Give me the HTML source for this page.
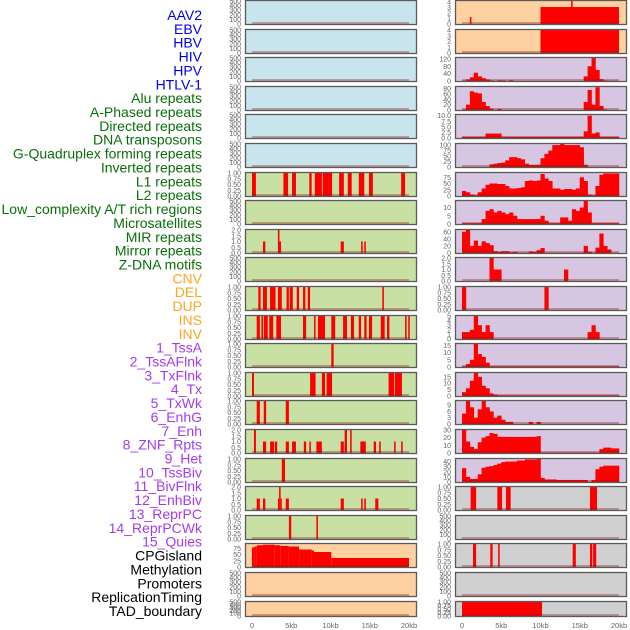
<!DOCTYPE html>
<html><head><meta charset="utf-8"><style>
html,body{margin:0;padding:0;background:#fff;width:630px;height:630px;overflow:hidden}
svg{display:block;font-family:"Liberation Sans",sans-serif}
</style></head><body>
<svg id="chart" width="630" height="630" viewBox="0 0 630 630"></svg>
<script>
const labels=["AAV2","EBV","HBV","HIV","HPV","HTLV-1","Alu repeats","A-Phased repeats","Directed repeats","DNA transposons","G-Quadruplex forming repeats","Inverted repeats","L1 repeats","L2 repeats","Low_complexity A/T rich regions","Microsatellites","MIR repeats","Mirror repeats","Z-DNA motifs","CNV","DEL","DUP","INS","INV","1_TssA","2_TssAFlnk","3_TxFlnk","4_Tx","5_TxWk","6_EnhG","7_Enh","8_ZNF_Rpts","9_Het","10_TssBiv","11_BivFlnk","12_EnhBiv","13_ReprPC","14_ReprPCWk","15_Quies","CPGisland","Methylation","Promoters","ReplicationTiming","TAD_boundary"];
const labelGroups=[6,13,5,15,5];
const xTicks=[0,5,10,15,20];
const xTickLabels=["0","5kb","10kb","15kb","20kb"];
// interval tracks: [startKb,endKb,value]
const L6=[[0,0.5,1],[4.0,4.6,1],[5.1,5.6,1],[7.3,7.6,1],[8.0,8.9,1],[9.0,9.8,1],[9.8,10.2,1],[11.1,11.7,1],[12.2,12.7,1],[13.6,14.3,1],[14.9,15.4,1],[19.0,19.5,1]];
const L8=[[1.4,1.7,1],[3.3,3.5,2],[3.5,3.7,1],[11.3,11.7,1],[13.9,14.1,1],[14.3,14.5,1]];
const L10=[[0.8,1.1,1],[1.4,1.9,1],[2.3,3.0,1],[3.3,3.8,1],[4.4,4.7,1],[4.8,5.2,1],[5.7,6.0,1],[6.5,6.8,1],[7.1,7.4,1],[16.6,16.8,1]];
const L11=[[0.6,1.0,1],[1.2,1.4,1],[1.5,2.0,1],[2.2,2.7,1],[3.1,3.7,1],[6.5,6.9,1],[7.9,8.1,1],[8.4,9.3,1],[10.1,10.6,1],[11.6,12.1,1],[12.6,13.0,1],[13.6,13.9,1],[14.3,14.6,1],[14.9,15.3,1],[16.4,16.9,1],[17.2,17.5,1],[19.5,19.7,1],[19.9,20.1,1]];
const L12=[[10.1,10.4,1]];
const L13=[[0,0.25,1],[7.4,8.1,1],[8.9,9.3,1],[9.5,10.2,1],[17.4,18.1,1],[18.2,19.1,1]];
const L14=[[0.6,1.0,1],[1.5,1.8,1],[4.3,4.7,1]];
const L15=[[0.25,0.5,2],[1.4,1.8,1],[2.3,2.8,1],[2.9,3.2,1],[4.3,4.7,1],[5.1,5.6,1],[6.6,6.9,1],[7.3,7.5,1],[8.2,8.9,1],[11.3,11.7,1],[11.8,12.1,2],[12.5,12.7,2],[13.8,14.5,1],[15.5,15.8,1],[16.2,16.4,1],[18.1,18.3,1],[19.0,19.2,1]];
const L16=[[3.8,4.2,1]];
const L17=[[0.6,1.0,1],[1.4,1.7,1],[3.3,3.45,1],[3.45,3.65,2],[3.65,3.8,1],[4.3,4.7,1],[11.3,11.7,1],[13.9,14.1,1],[14.3,14.5,1],[15.7,16.1,1]];
const L18=[[4.7,5.0,1],[8.2,8.4,1]];
const L19=[[0,0.3,78],[0.3,0.6,82],[0.6,1.4,87],[1.4,2.9,89],[2.9,3.6,87],[3.6,4.7,84],[4.7,6.0,82],[6.0,7.6,70],[7.6,7.9,66],[7.9,10.1,60],[10.1,20,36]];
const R0=[[1.0,1.2,1.3],[10,20,3.1],[13.9,14.1,4.2]];
const R1=[[10,20,4]];
const R17=[[1.1,1.8,1],[4.5,5.1,1],[5.6,6.2,1],[16.3,17.2,1]];
const R19=[[1.4,1.8,1],[3.6,3.9,1],[4.6,4.8,1],[14.1,14.5,1],[16.3,16.6,1],[16.7,17.1,1]];
const R21=[[0,10.2,1]];
// binned tracks: 40 bins of 0.5kb
const R2=[2,8,20,45,25,15,8,3,0,4,3,0,4,0,0,0,0,0,0,0,0,0,0,0,0,0,0,0,0,0,0,25,80,125,60,10,3,1,1,1];
const R3=[2,20,70,65,62,30,15,5,0,4,0,0,0,0,0,0,0,0,0,0,0,0,0,0,0,0,0,0,0,0,0,30,75,20,85,15,2,0,0,0];
const R4=[0.5,0.5,0.5,0.5,0.5,0.5,2,2,2,2,0.5,0.5,0.5,0.5,0.5,0.5,0.5,0.5,0.5,0.5,0.5,0.5,0.5,0.5,0.5,0.5,0.5,0.5,0.5,0.5,0.5,3,10,2,2.5,0.5,0.5,0.5,0.5,0.5];
const R5=[0.5,0.5,0.5,0.5,0.5,0.5,0.5,12,15,18,20,30,45,45,40,35,15,10,10,10,40,60,75,100,100,105,100,100,100,100,90,10,0,0,0,0,0,0,0,0];
const R6=[20,15,5,3,15,30,45,50,50,48,48,40,30,30,32,35,60,62,60,62,88,70,60,30,30,25,28,28,25,30,75,60,5,3,40,85,90,90,90,90];
const R7=[0.5,0.5,0.5,0.5,0.5,3,8,9,7,8,7,6,7,5,3,3,3,3,3,3,5,2,0.5,0.5,0.5,4,4,2,9,8,10,14,7,0.5,0.5,0.5,0.5,0.5,0.5,0.5];
const R8=[60,65,20,35,20,33,28,22,5,3,5,5,2,3,0.5,0.5,0.5,4,3,8,14,0.5,0.5,0.5,0.5,0.5,0.5,0.5,0.5,0.5,0.5,20,3,0.5,15,55,20,10,0.5,0.5];
const R9=[0,0,0,0,0,0,0,2,1,1,0,0,0,0,0,0,0,0,0,0,0,0,0,0,0,0,1,0,0,0,0,0,0,0,0,0,0,0,0,0];
const R10=[1,0,0,0,0,0,0,0,0,0,0,0,0,0,0,0,0,0,0,0,0,1,0,0,0,0,0,0,0,0,0,0,0,0,0,0,0,0,0,0];
const R11=[1.5,1.5,2,5,3,1.5,3,1.5,0,0,0,0,0,0,0,0,0,0,0,0,0,0,0,0,0,0,0,0,0,0,0,0,1.5,3,1.5,0,0,0,0,0];
const R12=[0.5,2,5,16,9,7,3,0.5,0.5,0.5,0.5,0.5,0.5,0.5,0.5,0.5,0.5,0.5,0.5,0.5,0.5,0.5,0.5,0.5,0.5,0.5,0.5,0.5,0.5,0.5,0.5,0.5,0.5,0.5,0.5,0.5,0.5,0.5,0.5,0.5];
const R13=[3,6,12,18,15,8,6,2,1,0.5,0.5,0.5,0.5,0.5,0.5,0.5,0.5,0.5,0.5,0.5,0.5,0.5,0.5,0.5,0.5,0.5,0.5,0.5,0.5,0.5,0.5,0.5,0.5,0.5,0.5,0.5,0.5,0.5,0.5,0.5];
const R14=[5,11,8,3,7,11,8,6,3,4,2,1,1,0,0,0,0,1,0,1,0,0,0,0,0,0,0,0,0,0,0,0,0,0,0,0,0,0,0,0];
const R15=[30,15,8,5,14,20,22,26,25,21,21,21,21,21,21,21,21,21,21,22,0.5,0.5,0.5,0.5,0.5,0.5,0.5,0.5,0.5,0.5,0.5,0.5,0.5,0.5,0.5,5,7,7,6,6];
const R16=[27,10,6,6,15,28,30,31,33,36,39,40,40,40,42,42,44,44,44,45,8,5,5,5,4,4,4,4,4,4,4,4,0.5,4,25,30,32,32,32,32];
// tick label sets
const tEmpty=["0","100","200","300","400","500"];
const t01=["0.00","0.25","0.50","0.75","1.00"];
const t02=["0.0","0.5","1.0","1.5","2.0"];
const tCpg=["0","25","50","75"];
const t04=["0","1","2","3","4"];
const t120=["0","40","80","120"];
const t80=["0","20","40","60","80"];
const t10=["0.0","2.5","5.0","7.5","10.0"];
const t100=["0","25","50","75","100"];
const t75=["0","25","50","75"];
const t10b=["0","5","10"];
const t60=["0","20","40","60"];
const t5=["0","1","2","3","4","5"];
const t15=["0","5","10","15"];
const t9=["0","3","6","9"];
const t30=["0","10","20","30"];
const t40=["0","10","20","30","40"];

const C={blue:"#c8e4ec",green:"#c8e0a4",orange:"#ffd0a0",purple:"#d6c6e2",grey:"#d0d0d0"};
// [bg, data, kind, yMax, ticks]
const leftCol=[
["blue",null,"e",500,tEmpty],["blue",null,"e",500,tEmpty],["blue",null,"e",500,tEmpty],["blue",null,"e",500,tEmpty],["blue",null,"e",500,tEmpty],["blue",null,"e",500,tEmpty],
["green",L6,"i",1,t01],["green",null,"e",500,tEmpty],["green",L8,"i",2,t02],["green",null,"e",500,tEmpty],
["green",L10,"i",1,t01],["green",L11,"i",1,t01],["green",L12,"i",1,t01],["green",L13,"i",1,t01],["green",L14,"i",1,t01],
["green",L15,"i",2,t02],["green",L16,"i",1,t01],["green",L17,"i",2,t02],["green",L18,"i",1,t01],
["orange",L19,"i",92,tCpg],["orange",null,"e",500,tEmpty],["orange",null,"e",500,tEmpty]];
const rightCol=[
["orange",R0,"i",4.2,t04],["orange",R1,"i",4,t04],["purple",R2,"b",125,t120],["purple",R3,"b",86,t80],["purple",R4,"b",10.3,t10],
["purple",R5,"b",105,t100],["purple",R6,"b",92,t75],["purple",R7,"b",14,t10b],["purple",R8,"b",65,t60],["purple",R9,"b",2,t02],
["purple",R10,"b",1,t01],["purple",R11,"b",5,t5],["purple",R12,"b",16,t15],["purple",R13,"b",18,t15],["purple",R14,"b",11,t9],
["purple",R15,"b",30,t30],["purple",R16,"b",45,t40],["grey",R17,"i",1,t01],["grey",null,"e",500,tEmpty],["grey",R19,"i",1,t01],
["grey",null,"e",500,tEmpty],["grey",R21,"i",1,t01]];

const NS="http://www.w3.org/2000/svg";
const svg=document.getElementById("chart");
function mk(tag,attrs,parent){const e=document.createElementNS(NS,tag);for(const k in attrs)e.setAttribute(k,attrs[k]);(parent||svg).appendChild(e);return e;}

// labels
const groupColors=["#0000ee","#0a6e0a","#ffa520","#a23cf0","#000000"];
let li=0;
labelGroups.forEach((n,g)=>{for(let k=0;k<n;k++){const t=mk("text",{x:202,y:15+li*13.86+5,"text-anchor":"end","font-size":"14",fill:groupColors[g]});


t.textContent=labels[li];li++;}});

function drawCol(col,px0,px1,x0,x20,side){
  const sx=kb=>x0+(x20-x0)*kb/20;
  col.forEach((p,i)=>{
    const top=Math.round(i*28.6), h=(i===21?16:25), bot=top+h;
    const g=mk("g",{});
    
    
    mk("rect",{x:px0,y:top,width:px1-px0,height:h,fill:C[p[0]]},g);
    const ymax=p[3];
    const sy=v=>bot-1-(h-2)*Math.min(v,ymax)/ymax;
    const data=p[1];
    if(p[2]==="i"){data.forEach(d=>{const r=mk("rect",{x:sx(d[0]),y:sy(d[2]),width:Math.max(1,sx(d[1])-sx(d[0])),height:bot-1-sy(d[2]),fill:"#ff0000"},g);
      
      });}
    else if(p[2]==="b"){data.forEach((v,j)=>{if(v<=0)return;const r=mk("rect",{x:sx(j*0.5),y:sy(v),width:sx(0.5)-sx(0)+0.3,height:bot-1-sy(v),fill:"#ff0000"},g);
      
      });}
    mk("rect",{x:sx(0),y:bot-3,width:sx(20)-sx(0),height:2.5,fill:"rgba(140,20,20,0.35)"},g);
    mk("rect",{x:px0+0.5,y:top+0.5,width:px1-px0-1,height:h-1,fill:"none",stroke:"#5a5a5a","stroke-width":"1.3"},g);
    const ticks=p[4], n=ticks.length;
    ticks.forEach((t,k)=>{const v=(p[2]==="e")?k*100:parseFloat(t);const yy=(p[2]==="e"?bot-1-(h-2)*k/(n-1):sy(v));
      const tx=mk("text",{x:px0-4,y:yy+2.5,"text-anchor":"end","font-size":"7",fill:"#666"},g);
      
      
      tx.textContent=t;});
  });
  xTicks.forEach((v,k)=>{const t=mk("text",{x:sx(v),y:628,"text-anchor":"middle","font-size":"7.5",fill:"#666"});
    
    
    t.textContent=xTickLabels[k];});
}
drawCol(leftCol,245,417,252,409,'left');
drawCol(rightCol,455,627,462,619,'right');
</script>
</body></html>
